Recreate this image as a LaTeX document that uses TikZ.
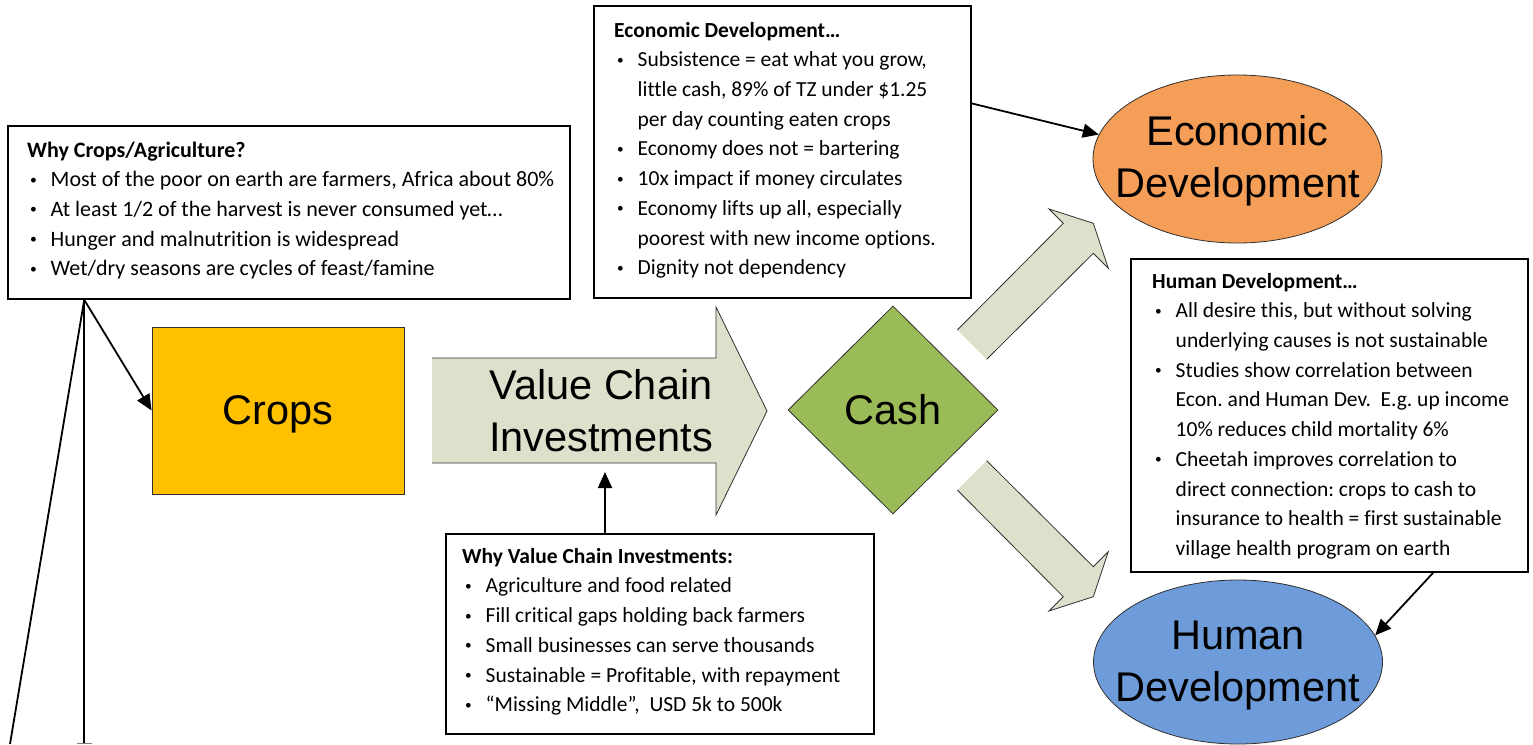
\documentclass[tikz,border=0pt]{standalone}
\usepackage{fontspec}
\usepackage{graphicx}
\setmainfont{Carlito}
\newfontfamily\calfont[Ligatures=NoCommon]{Carlito}
\newfontfamily\arialfont{Liberation Sans}
\usetikzlibrary{shapes.geometric,arrows.meta,calc}
\definecolor{cropsc}{HTML}{FFC000}
\definecolor{cashc}{HTML}{9BBB59}
\definecolor{econc}{HTML}{F59E58}
\definecolor{humc}{HTML}{6E9BD9}
\definecolor{arrowc}{HTML}{DDE1CB}
\definecolor{shapebord}{HTML}{303030}
\newcommand\bul{\makebox[23.5pt][l]{\hspace{3pt}\raisebox{0.12em}{\scalebox{0.62}{\textbullet}}}}
\newcommand\ind{\hspace*{23.5pt}}
\tikzset{
  infobox/.style={draw=black,line width=1.8pt,fill=white,inner sep=0pt,anchor=north west},
  infotext/.style={anchor=north west,inner sep=0pt,align=left,
    font=\calfont\fontsize{21.5}{29.7}\selectfont\frenchspacing},
  big/.style={font=\arialfont\fontsize{41.5}{52}\selectfont,align=center},
  shapeline/.style={draw=shapebord,line width=0.8pt},
  conn/.style={line width=1.8pt,-{Triangle[length=16pt,width=14pt]}},
  plainline/.style={line width=1.8pt},
  blockline/.style={draw=shapebord,line width=0.8pt,line join=miter},
}
\begin{document}
\begin{tikzpicture}[x=1pt,y=-1pt]
\useasboundingbox (0,0) rectangle (1533,744);
\path (0,744) coordinate (bottomedge);

% block arrows
\fill[arrowc] (432,358) -- (716,358) -- (716,307) -- (767,411) -- (716,515) -- (716,463) -- (432,463) -- cycle;
\draw[blockline] (432,358) -- (716,358) -- (716,307) -- (767,411) -- (716,515) -- (716,463) -- (432,463);

\fill[arrowc] (957.3,330) -- (1063.3,223.3) -- (1049,209) -- (1093.3,223.3) -- (1108.3,268.3) -- (1093.3,253.3) -- (986.7,359.3) -- cycle;
\draw[blockline] (957.3,330) -- (1063.3,223.3) -- (1049,209) -- (1093.3,223.3) -- (1108.3,268.3) -- (1093.3,253.3) -- (986.7,359.3);

\fill[arrowc] (957.3,490) -- (1063.3,596.7) -- (1049,611) -- (1093.3,596.7) -- (1108.3,551.7) -- (1093.3,566.7) -- (986.7,460.7) -- cycle;
\draw[blockline] (957.3,490) -- (1063.3,596.7) -- (1049,611) -- (1093.3,596.7) -- (1108.3,551.7) -- (1093.3,566.7) -- (986.7,460.7);

% main shapes
\node[big] (vci) at (601,411) {Value Chain\\Investments};
\node[shapeline,fill=cropsc,minimum width=252,minimum height=167,inner sep=0pt,big,text depth=0pt] (crops) at (278,410.5) {Crops};
\node[diamond,shapeline,fill=cashc,minimum width=210,minimum height=208,inner sep=0pt,big] (cash) at (893,410) {Cash};
\node[ellipse,shapeline,fill=econc,minimum width=289,minimum height=168,inner sep=0pt,
  label={[big,name=econlab,yshift=-2pt]center:{Economic\\Development}}] (econ) at (1237.5,159) {};
\node[ellipse,shapeline,fill=humc,minimum width=289,minimum height=164,inner sep=0pt,
  label={[big,name=humlab,yshift=-4pt]center:{Human\\Development}}] (hum) at (1238,662) {};

% info boxes
\node[infobox,minimum width=562,minimum height=173] (wcbox) at (7,125) {};
\node[infotext,font=\calfont\fontsize{22}{29.7}\selectfont\frenchspacing] (wctext) at (27,136.2) {\strut\textbf{Why Crops/Agriculture?}\\
\bul Most of the poor on earth are farmers, Africa about 80\%\\
\bul At least 1/2 of the harvest is never consumed yet…\\
\bul Hunger and malnutrition is widespread\\
\bul Wet/dry seasons are cycles of feast/famine};

\node[infobox,minimum width=377,minimum height=292] (econbox) at (593,5) {};
\node[infotext] (econtext) at (614,16.2) {\strut\textbf{Economic Development…}\\
\bul Subsistence = eat what you grow,\\
\ind little cash, 89\% of TZ under \$1.25\\
\ind per day counting eaten crops\\
\bul Economy does not = bartering\\
\bul 10x impact if money circulates\\
\bul Economy lifts up all, especially\\
\ind poorest with new income options.\\
\bul Dignity not dependency};

\node[infobox,minimum width=397,minimum height=313] (humbox) at (1130,258) {};
\node[infotext] (humtext) at (1152,267.2) {\strut\textbf{Human Development…}\\
\bul All desire this, but without solving\\
\ind underlying causes is not sustainable\\
\bul Studies show correlation between\\
\ind Econ. and Human Dev.\ \ E.g. up income\\
\ind 10\% reduces child mortality 6\%\\
\bul Cheetah improves correlation to\\
\ind direct connection: crops to cash to\\
\ind insurance to health = first sustainable\\
\ind village health program on earth};

\node[infobox,minimum width=428,minimum height=200] (vcibox) at (445,533) {};
\node[infotext] (vcitext) at (462,542.2) {\strut\textbf{Why Value Chain Investments:}\\
\bul Agriculture and food related\\
\bul Fill critical gaps holding back farmers\\
\bul Small businesses can serve thousands\\
\bul Sustainable = Profitable, with repayment\\
\bul “Missing Middle”,\ \ USD 5k to 500k};

% connectors
\coordinate (wcfoot) at ($(wcbox.south west)!0.137!(wcbox.south east)$);
\coordinate (wcv) at (wcfoot |- bottomedge);
\coordinate (wcs) at (10,744);
\draw[plainline] (wcfoot) -- (wcv);
\draw[plainline] (wcfoot) -- (wcs);
\draw[line width=0.8pt,draw=gray] ($(wcv)+(-7.5,-1)$) -- ($(wcv)+(7.5,-1)$);
\draw[conn] (wcfoot) -- (crops.west);

\coordinate (ea) at ($(econbox.north east)!0.335!(econbox.south east)$);
\draw[conn] (ea) -- (econ.170);

\coordinate (ha) at ($(humbox.south west)!0.76!(humbox.south east)$);
\draw[conn] (ha) -- (hum.11);

\coordinate (vcitip) at (605,472);
\draw[conn] (vcitip |- vcibox.north) -- (vcitip);
\end{tikzpicture}
\end{document}
